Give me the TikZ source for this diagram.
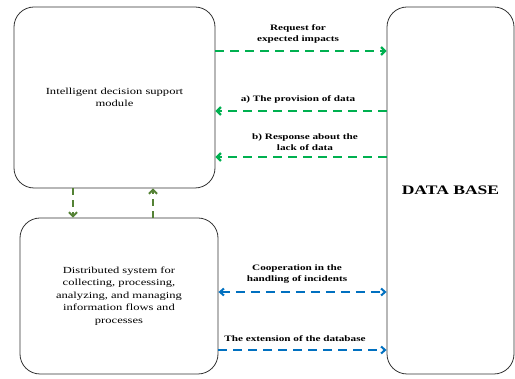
\documentclass[tikz,border=0pt]{standalone}
\usepackage{fontspec}
\setmainfont[FakeStretch=1.35]{Liberation Serif}
\usetikzlibrary{arrows.meta,positioning}
\definecolor{dgreen}{RGB}{0,176,80}
\definecolor{dblue}{RGB}{0,112,192}
\definecolor{olive}{RGB}{84,130,53}

\begin{document}
\begin{tikzpicture}[x=1pt, y=-1pt,
    every node/.style={font=\fontsize{9.3}{12.5}\selectfont},
    block/.style={draw=black!80, thick, rounded corners=20pt, align=center, inner sep=0pt},
    flowlbl/.style={font=\fontsize{8.3}{11.5}\selectfont\bfseries, align=center},
    gline/.style={dgreen, line width=2.2pt, dash pattern=on 9pt off 6pt, -{Straight Barb[length=4pt,width=8pt]}},
    bline/.style={dblue, line width=2pt, dash pattern=on 9pt off 6pt, -{Straight Barb[length=4pt,width=7pt]}},
    oline/.style={olive, line width=2pt, dash pattern=on 7pt off 5pt, -{Straight Barb[length=4pt,width=8pt]}}]
    % Frame
    \useasboundingbox (0,0) rectangle (515,379);
    % Blocks
    \node[block, minimum width=201pt, minimum height=181pt] (ids) at (114.5,97.5)
        {Intelligent decision support\\module};
    \node[block, minimum width=198pt, minimum height=156pt] (dist) at (119,296)
        {Distributed system for\\collecting, processing,\\analyzing, and managing\\information flows and\\processes};
    \node[block, minimum width=127pt, minimum height=367pt] (db) at (450.5,190.5)
        {\fontsize{13}{15}\selectfont\bfseries DATA BASE};
    % Green flows
    \draw[gline] (ids.east |- 0,51) -- (db.west |- 0,51);
    \draw[gline] (db.west |- 0,111) -- (ids.east |- 0,111);
    \draw[gline] (db.west |- 0,157) -- (ids.east |- 0,157);
    \node[flowlbl] (lreq) at (298,34) {Request for\\expected impacts};
    \node[flowlbl] (lprov) at (298,99) {a) The provision of data};
    \node[flowlbl] (lresp) at (305,142) {b) Response about the\\lack of data};
    % Links between the two modules
    \draw[oline] (ids.south -| 73,0) -- (dist.north -| 73,0);
    \draw[oline] (dist.north -| 153,0) -- (ids.south -| 153,0);
    % Blue flows
    \draw[bline, {Straight Barb[length=4pt,width=7pt]}-{Straight Barb[length=4pt,width=7pt]}]
        (dist.east |- 0,292) -- (db.west |- 0,292);
    \draw[bline] (dist.east |- 0,350) -- (db.west |- 0,350);
    \node[flowlbl] (lcoop) at (297,274) {Cooperation in the\\handling of incidents};
    \node[flowlbl] (lext) at (295,339) {The extension of the database};
\end{tikzpicture}
\end{document}
